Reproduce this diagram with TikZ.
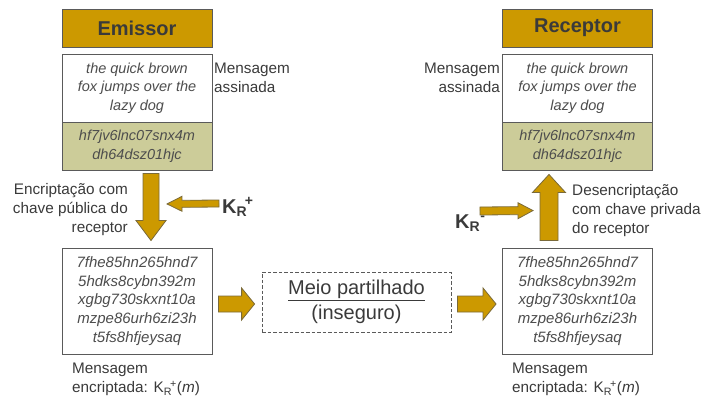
\documentclass[tikz,border=0pt]{standalone}
\usepackage{fontspec}
\setmainfont{Liberation Sans}
\usetikzlibrary{calc}

\definecolor{gold}{HTML}{CC9900}
\definecolor{olivelt}{HTML}{CCCC99}
\definecolor{edge}{HTML}{5A5A5A}
\definecolor{arrowedge}{HTML}{7A6A3A}
\definecolor{txt}{HTML}{3A3A3A}
\definecolor{msgtxt}{HTML}{4D4D4D}

% Block arrow from #1 to #2: shaft half-width #3, head half-width #4, head length #5 (pt)
\newcommand\blockarrow[5]{%
  \path (#1) coordinate (ba-s) (#2) coordinate (ba-t);
  \pgfmathanglebetweenpoints{\pgfpointanchor{ba-s}{center}}{\pgfpointanchor{ba-t}{center}}%
  \let\baAngle\pgfmathresult
  \pgfpointdiff{\pgfpointanchor{ba-s}{center}}{\pgfpointanchor{ba-t}{center}}%
  \pgfgetlastxy{\baDX}{\baDY}%
  \pgfmathveclen{\baDX}{\baDY}%
  \let\baLen\pgfmathresult
  \begin{scope}[shift={(ba-s)}, rotate=\baAngle]
    \path[blockarrow] (0pt,{#3*1pt})
      -- ({(\baLen-#5)*1pt},{#3*1pt})
      -- ({(\baLen-#5)*1pt},{#4*1pt})
      -- ({\baLen*1pt},0pt)
      -- ({(\baLen-#5)*1pt},{-#4*1pt})
      -- ({(\baLen-#5)*1pt},{-#3*1pt})
      -- (0pt,{-#3*1pt}) -- cycle;
  \end{scope}}

\newcommand\keyR[1]{K\textsubscript{R}\kern-.12em\textsuperscript{#1}}

\tikzset{
  blockarrow/.style={draw=arrowedge, fill=gold, line width=0.8pt, line join=miter},
  header/.style={draw=edge, fill=gold, line width=0.9pt, minimum width=150pt, minimum height=38pt,
    inner sep=0pt, text=txt, font=\fontsize{20}{24}\selectfont\bfseries},
  msgbox/.style={draw=edge, fill=white, line width=0.9pt, minimum width=150pt, minimum height=68pt,
    inner sep=0pt, align=center, text=msgtxt, font=\fontsize{14.5}{18.5}\selectfont\itshape},
  hashbox/.style={msgbox, fill=olivelt, minimum height=48pt},
  encbox/.style={msgbox, minimum height=106pt, font=\fontsize{15}{18.7}\selectfont\itshape},
  medium/.style={draw=edge, dash pattern=on 3.5pt off 2pt, line width=0.8pt, minimum width=189pt,
    minimum height=60pt, inner sep=0pt, align=center, text=txt, font=\fontsize{20}{25}\selectfont},
  lbl/.style={inner sep=0pt, text=txt, font=\fontsize{15.3}{19}\selectfont},
  keylbl/.style={inner sep=0pt, text=txt, font=\fontsize{20}{24}\selectfont\bfseries},
}

\begin{document}
\begin{tikzpicture}[x=1pt, y=-1pt]
\useasboundingbox (0,0) rectangle (716,399);

% Sender side
\node[header] (hdrE) at (137,28) {Emissor};
\node[msgbox] (msgE) at (137,88) {the quick brown\\fox jumps over the\\lazy dog};
\node[hashbox] (hashE) at (137,146) {hf7jv6lnc07snx4m\\dh64dsz01hjc};
\node[encbox] (encE) at (137,301) {7fhe85hn265hnd7\\5hdks8cybn392m\\xgbg730skxnt10a\\mzpe86urh6zi23h\\t5fs8hfjeysaq};

% Shared channel
\node[medium] (mid) at (356.5,302) {\underline{Meio partilhado}\\(inseguro)};

% Receiver side
\node[header] (hdrR) at (577.5,28) {Receptor};
\node[msgbox] (msgR) at (577.5,88) {the quick brown\\fox jumps over the\\lazy dog};
\node[hashbox] (hashR) at (577.5,146) {hf7jv6lnc07snx4m\\dh64dsz01hjc};
\node[encbox] (encR) at (577.5,301) {7fhe85hn265hnd7\\5hdks8cybn392m\\xgbg730skxnt10a\\mzpe86urh6zi23h\\t5fs8hfjeysaq};

% Side labels
\node[lbl, anchor=north west, align=left] (signE) at (214,63) {Mensagem\\assinada};
\node[lbl, anchor=north east, align=right] (signR) at (500,63) {Mensagem\\assinada};
\node[lbl, anchor=north east, align=right] (encLbl) at (128,183) {Encriptação com\\chave pública do\\receptor};
\node[lbl, anchor=north west, align=left] (decLbl) at (572,184) {Desencriptação\\com chave privada\\do receptor};
\node[lbl, anchor=north west, align=left] (cipherE) at (72,363) {Mensagem\\encriptada: \keyR{+}(\textit{m})};
\node[lbl, anchor=north west, align=left] (cipherR) at (512,363) {Mensagem\\encriptada: \keyR{+}(\textit{m})};

% Keys
\node[keylbl, anchor=base west] (kplus) at (222,213) {\keyR{+}};
\node[keylbl, anchor=base west] (kminus) at (455,228) {K\textsubscript{R}\textsuperscript{-}};

% Flow arrows
\blockarrow{$(hashE.south)+(14,3)$}{$(encE.north)+(14,-7)$}{8}{15}{20}
\blockarrow{$(kplus.base west)+(-3,-9.5)$}{$(hashE.south)+(30,33.5)$}{3.5}{7.5}{15}
\blockarrow{$(encE.east)+(6,3)$}{$(mid.west)+(-7,2)$}{8}{16}{13}
\blockarrow{$(mid.east)+(6,2)$}{$(encR.west)+(-6,3)$}{8}{16}{13}
\blockarrow{$(kminus.base west)+(25,-17)$}{$(encR.north)+(-44.5,-37)$}{4}{8}{15}
\blockarrow{$(encR.north)+(-28.5,-7)$}{$(hashR.south)+(-28.5,4)$}{9}{16.5}{18}
\end{tikzpicture}
\end{document}
